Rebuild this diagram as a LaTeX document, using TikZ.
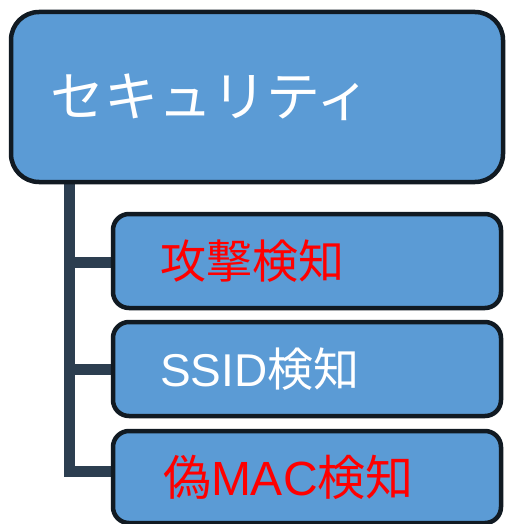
\documentclass[tikz,border=0pt]{standalone}
\usepackage{fontspec}
\setmainfont{Liberation Sans}
\newfontfamily\jpfont{Noto Sans CJK JP}
\usetikzlibrary{positioning}
\definecolor{boxblue}{HTML}{5B9BD5}
\definecolor{boxline}{HTML}{111A22}
\definecolor{trunkgray}{HTML}{2C3E50}

\begin{document}
\begin{tikzpicture}[
    x=1pt, y=-1pt,
    rootbox/.style={rectangle, draw=boxline, line width=4.5pt, rounded corners=28pt, fill=boxblue,
        minimum width=492pt, minimum height=170pt, text width=414pt, align=left, inner xsep=39pt,
        font=\jpfont\fontsize{54}{62}\selectfont, text=white},
    leafbox/.style={rectangle, draw=boxline, line width=4.5pt, rounded corners=16pt, fill=boxblue,
        minimum width=388pt, minimum height=94pt, text width=294pt, align=left, inner xsep=47pt,
        font=\fontsize{46}{54}\selectfont},
    branch/.style={draw=trunkgray, line width=11pt}
]
\useasboundingbox (0,0) rectangle (507,524);

% Tree
\coordinate (trunk) at (69,181);
\draw[branch] (trunk) |- (113,262) coordinate (b1);
\draw[branch] (trunk) |- (113,369) coordinate (b2);
\draw[branch] (trunk) |- (113,471) coordinate (b3);

\node[rootbox] (security) at (257,97) {セキュリティ};
\node[leafbox, text=red] (attack) at (307,261) {{\jpfont 攻撃検知}};
\node[leafbox, text=white] (ssid) at (307,369) {SSID{\jpfont 検知}};
\node[leafbox, text=red, minimum height=92pt, text width=288pt, inner xsep=50pt,
    font=\fontsize{48}{56}\selectfont] (fakemac) at (307,477) {{\jpfont 偽}MAC{\jpfont 検知}};

\end{tikzpicture}
\end{document}
